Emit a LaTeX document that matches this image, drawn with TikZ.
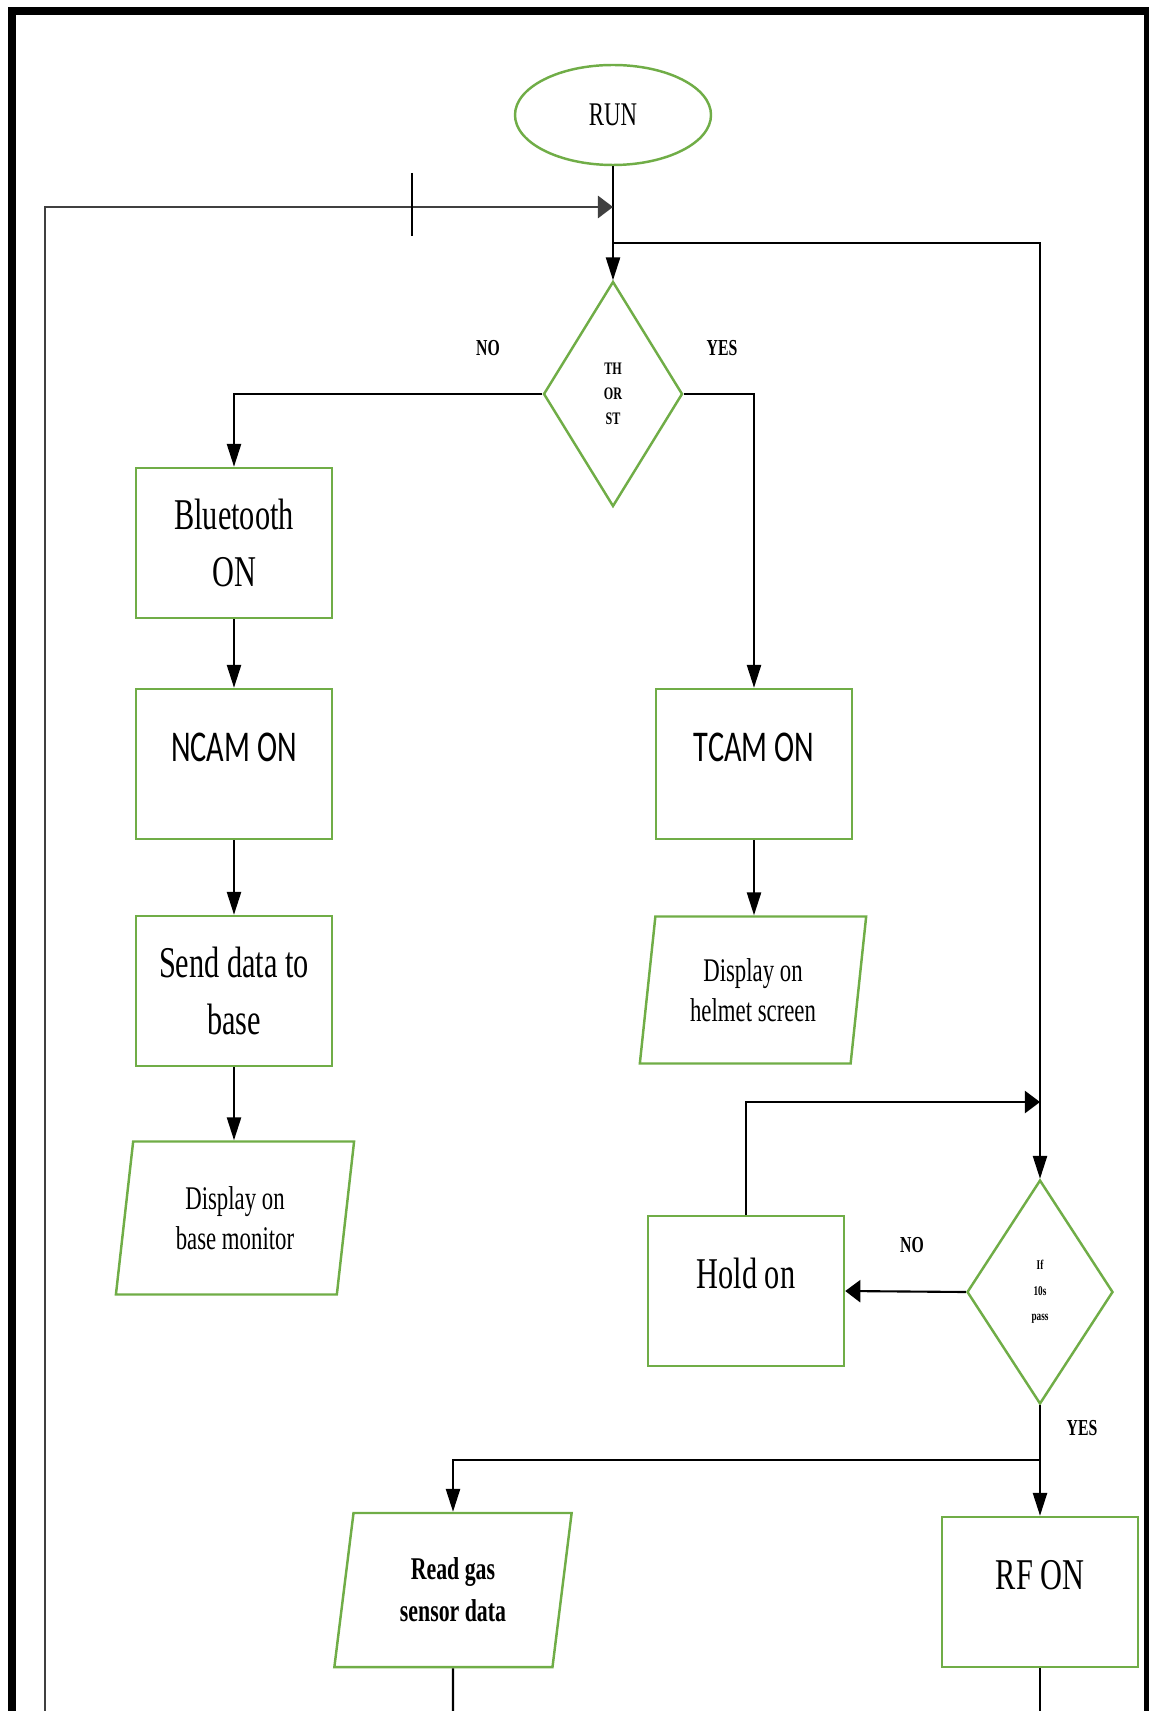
\documentclass[tikz,border=0pt]{standalone}
\usepackage{fontspec}
\setmainfont{Liberation Serif}[FakeStretch=0.69]
\newfontfamily\camfont{Carlito}[FakeStretch=0.69]
\usepackage{xcolor}
\usepackage{tikz}
\usetikzlibrary{shapes.geometric,arrows.meta,positioning}

\definecolor{boxgreen}{RGB}{112,173,71}
\newcommand{\fbig}{\fontsize{12.5}{16}\selectfont}
\newcommand{\fmid}{\fontsize{9.4}{11.4}\selectfont}
\newcommand{\flbl}{\fontsize{6.5}{8}\selectfont\bfseries}
\newcommand{\fdec}{\fontsize{5}{7.2}\selectfont\bfseries}
\newcommand{\fpass}{\fontsize{3.8}{7.2}\selectfont\bfseries}

\begin{document}
\begin{tikzpicture}[x=0.1mm,y=-0.1mm,
  procbox/.style={draw=boxgreen,line width=0.7pt,rectangle,minimum width=1.96cm,minimum height=1.5cm,align=center,font=\fbig,inner sep=0pt},
  uptext/.style={text height=8.5pt,text depth=9.7pt},
  iobox/.style={draw=boxgreen,line width=0.7pt,trapezium,trapezium left angle=81,trapezium right angle=99,trapezium stretches,align=center,inner sep=0pt},
  decbox/.style={draw=boxgreen,line width=0.7pt,diamond,align=center,inner sep=0pt},
  conn/.style={draw=black,line width=0.6pt},
  varrow/.style={conn,-{Triangle[length=6.5pt,width=4pt]}},
  harrow/.style={conn,-{Triangle[length=4.3pt,width=6.3pt]}},
  lbl/.style={font=\flbl}]
\useasboundingbox (0,0) rectangle (1149,1711);

% Outer frame
\draw[line width=2.3pt] (12,1720) -- (12,11) -- (1148,11) -- (1148,1720);

% Start and first decision
\node[draw=boxgreen,line width=0.7pt,ellipse,minimum width=1.96cm,minimum height=1cm,font=\fmid] (run) at (613,115) {RUN};
\node[decbox,minimum width=1.39cm,minimum height=2.25cm,font=\fdec] (dec1) at (613,394) {TH\\OR\\ST};
\node[lbl] (no1) at (488,348) {NO};
\node[lbl] (yes1) at (722,348) {YES};

% NO branch
\node[procbox] (bt) at (234,543) {Bluetooth\\ON};
\node[procbox,uptext,font=\camfont\fbig] (ncam) at (234,764) {NCAM ON};
\node[procbox] (send) at (234,991) {Send data to\\base};
\node[iobox,minimum width=2.39cm,minimum height=1.53cm,font=\fmid] (dispbase) at (235,1218) {Display on\\base monitor};

% YES branch
\node[procbox,uptext,font=\camfont\fbig] (tcam) at (754,764) {TCAM ON};
\node[iobox,minimum width=2.27cm,minimum height=1.47cm,font=\fmid] (disphelm) at (753,990) {Display on\\helmet screen};

% Timer check
\node[decbox,minimum width=1.46cm,minimum height=2.24cm,font=\fpass] (dec2) at (1040,1292) {If\\10s\\pass};
\node[procbox,uptext] (hold) at (746,1291) {Hold on};
\node[lbl] (no2) at (912,1245) {NO};
\node[lbl] (yes2) at (1082,1428) {YES};
\node[procbox,uptext] (rf) at (1040,1592) {RF ON};
\node[iobox,minimum width=2.38cm,minimum height=1.54cm,font=\fontsize{9}{12}\selectfont\bfseries] (readgas) at (453,1590) {Read gas\\sensor data};

% Junctions
\coordinate (loopin) at (613,207);
\coordinate (loopbot) at (45,1711);
\coordinate (split) at (613,243);
\coordinate (holdin) at (1040,1102);
\coordinate (yessplit) at (1040,1460);
\coordinate (gasout) at (453,1711);
\coordinate (rfout) at (1040,1711);

% Connectors
\draw[varrow] (run.south) -- (dec1.north);
\draw[harrow,draw=black!75,line width=0.8pt] (loopbot) |- (loopin);
\draw[conn,line width=0.4pt] (412,173) -- (412,236);
\draw[varrow] (split) -| (dec2.north);
\draw[varrow] (dec1.west) -| (bt.north);
\draw[varrow] (dec1.east) -| (tcam.north);
\draw[varrow] (bt.south) -- (ncam.north);
\draw[varrow] (ncam.south) -- (send.north);
\draw[varrow] (send.south) -- (send.south |- dispbase.north);
\draw[varrow] (tcam.south) -- (tcam.south |- disphelm.north);
\draw[harrow] (dec2.west) -- (hold.east);
\draw[harrow] (hold.north) |- (holdin);
\draw[varrow] (dec2.south) -- (rf.north);
\draw[varrow] (yessplit) -| (readgas.north);
\draw[conn] (readgas.south) -- (gasout);
\draw[conn] (rf.south) -- (rfout);
\end{tikzpicture}
\end{document}
